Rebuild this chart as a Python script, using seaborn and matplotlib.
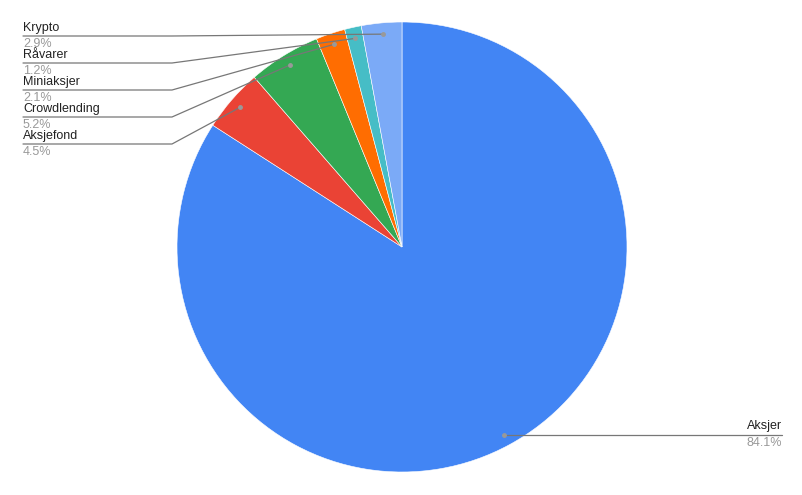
import numpy as np
import matplotlib
matplotlib.use("Agg")
import matplotlib.pyplot as plt
import seaborn as sns

# data (clockwise from 12 o'clock)
labels = ["Aksjer", "Aksjefond", "Crowdlending", "Miniaksjer", "Råvarer", "Krypto"]
values = [84.1, 4.5, 5.2, 2.1, 1.2, 2.9]
colors = ["#4285F4", "#EA4335", "#34A853", "#FF6D01", "#46BDC6", "#7BAAF7"]

sns.set_theme(style="white")
plt.rcParams["font.family"] = ["Liberation Sans", "DejaVu Sans"]

W, H = 803, 495
CX, CY, R = 402, 247, 225

fig = plt.figure(figsize=(W / 100, H / 100), dpi=100)
ax = fig.add_axes([(CX - R) / W, (H - CY - R) / H, 2 * R / W, 2 * R / H])
wedges, _ = ax.pie(values, colors=colors, startangle=90, counterclock=False,
                   radius=1, wedgeprops=dict(edgecolor="white", linewidth=0.4))
ax.set_xlim(-1, 1)
ax.set_ylim(-1, 1)
ax.set_aspect("equal")
ax.axis("off")


def px(x, y):
    # pixel coords -> data coords
    return (x - CX) / R, (CY - y) / R


# label line heights on the left (pixels), for the small slices
left_y = {"Krypto": 36, "Råvarer": 63, "Miniaksjer": 90, "Crowdlending": 117, "Aksjefond": 144}
line_c = "#777777"
for w, lab, v in zip(wedges, labels, values):
    ang = np.deg2rad((w.theta1 + w.theta2) / 2)
    dx, dy = 0.95 * np.cos(ang), 0.95 * np.sin(ang)
    pct = f"{v:.1f}%"
    if lab == "Aksjer":
        ex, ey = px(782, 0)
        ax.plot([dx, ex], [dy, dy], color=line_c, lw=0.9, clip_on=False)
        ax.text(ex, dy + 0.01, lab, ha="right", va="bottom", fontsize=9, color="#222222")
        ax.text(ex, dy - 0.01, pct, ha="right", va="top", fontsize=9, color="#999999")
    else:
        sx, sy = px(23, left_y[lab])
        kx, _ = px(172, left_y[lab])
        ax.plot([sx, kx, dx], [sy, sy, dy], color=line_c, lw=0.9, clip_on=False)
        ax.text(sx, sy + 0.01, lab, ha="left", va="bottom", fontsize=9, color="#222222")
        ax.text(sx, sy - 0.01, pct, ha="left", va="top", fontsize=9, color="#999999")
    ax.plot([dx], [dy], "o", ms=2.5, color="#999999", clip_on=False)

fig.savefig("out.png", dpi=100, facecolor="white")
